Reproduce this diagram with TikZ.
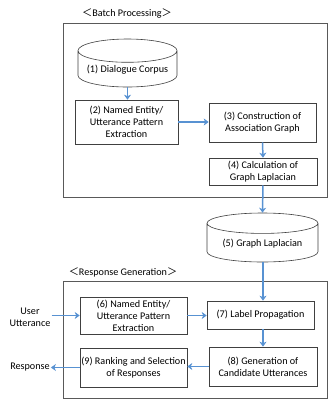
\documentclass[tikz,border=0pt]{standalone}
\usepackage{fontspec}
\setmainfont{Carlito}
\newfontfamily\cjk{Noto Sans CJK JP}
\usetikzlibrary{shapes.geometric,arrows.meta}
\definecolor{flowblue}{RGB}{88,146,210}

\tikzset{
  stepbox/.style={draw=black!75, line width=0.6pt, align=center,
    inner sep=1pt, fill=white},
  store/.style={cylinder, shape border rotate=90, draw=black!75,
    line width=0.6pt, align=center, inner sep=1pt, fill=white,
    anchor=shape center},
  flow/.style={draw=flowblue, line width=1.5pt,
    -{Stealth[length=5pt,width=7pt,inset=1.5pt]}},
  frame/.style={draw=black!65, line width=0.7pt},
  tag/.style={align=center, inner sep=1pt}
}

\begin{document}
\begin{tikzpicture}[x=1bp, y=-1bp, font=\fontsize{10.2}{12}\selectfont]
  \useasboundingbox (0,0) rectangle (328,403);

  % the two stages
  \draw[frame] (63,23) rectangle (327,197);
  \draw[frame] (63,281) rectangle (327,398);
  \node[tag] (batchlbl) at (127,13) {{\cjk ＜}Batch Processing{\cjk ＞}};
  \node[tag] (resplbl) at (123,272) {{\cjk ＜}Response Generation{\cjk ＞}};

  % batch processing
  \node[store, minimum width=99bp, minimum height=48bp, aspect=0.28]
    (corpus) at (127.5,63) {(1) Dialogue Corpus};
  \node[stepbox, minimum width=103bp, minimum height=44bp]
    (extract) at (126.5,122) {(2) Named Entity/\\Utterance Pattern\\Extraction};
  \node[stepbox, minimum width=107bp, minimum height=39bp]
    (assoc) at (262.5,122.5) {(3) Construction of\\Association Graph};
  \node[stepbox, minimum width=108bp, minimum height=27bp]
    (laplace) at (263,171.5) {(4) Calculation of\\Graph Laplacian};
  \node[store, minimum width=111bp, minimum height=49bp, aspect=0.25]
    (graphlap) at (262.5,237.5) {(5) Graph Laplacian};

  % response generation
  \node[stepbox, minimum width=107bp, minimum height=37bp]
    (extract2) at (133.5,315.5) {(6) Named Entity/\\Utterance Pattern\\Extraction};
  \node[stepbox, minimum width=107bp, minimum height=28bp]
    (labelprop) at (260.5,315) {(7) Label Propagation};
  \node[stepbox, minimum width=108bp, minimum height=39bp]
    (candidates) at (263,366.5) {(8) Generation of\\Candidate Utterances};
  \node[stepbox, minimum width=107bp, minimum height=39bp]
    (ranking) at (133.5,367.5) {(9) Ranking and Selection\\of Responses};
  \node[tag] (user) at (30,317) {User\\Utterance};
  \node[tag] (resp) at (30,367) {Response};

  % connectors
  \draw[flow] (corpus.south) -- (corpus.south |- extract.north);
  \draw[flow] (extract.east) -- (assoc.west |- extract.east);
  \draw[flow] (assoc.south) -- (laplace.north);
  \draw[flow] (laplace.south) -- (graphlap.north);
  \draw[flow] (laplace.south |- graphlap.south) -- (laplace.south |- labelprop.north);
  \draw[flow] (user.east |- extract2.west) -- (extract2.west);
  \draw[flow] (extract2.east) -- (labelprop.west |- extract2.east);
  \draw[flow] (candidates.north |- labelprop.south) -- (candidates.north);
  \draw[flow] (candidates.west) -- (ranking.east |- candidates.west);
  \draw[flow] (ranking.west) -- (resp.east |- ranking.west);
\end{tikzpicture}
\end{document}
